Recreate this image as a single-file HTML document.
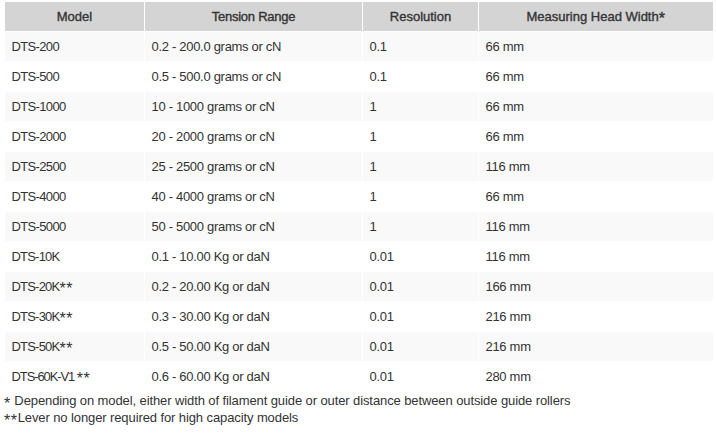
<!DOCTYPE html>
<html><head><meta charset="utf-8">
<style>
html,body{margin:0;padding:0;background:#fff;}
body{width:716px;height:435px;overflow:hidden;position:relative;font-family:"Liberation Sans",sans-serif;color:#333;}
table{position:absolute;left:4px;top:1px;border-collapse:separate;border-spacing:1px;font-size:13px;}
td,th{padding:0 0 0 6.5px;letter-spacing:-0.3px;height:29px;box-sizing:border-box;text-align:left;font-weight:normal;white-space:nowrap;line-height:29px;}
th{background:#d4d4d4;text-align:center;padding:0;font-weight:normal;letter-spacing:0;-webkit-text-stroke:0.35px #333;}
tr.g td{background:#f9f9f9;}
td:first-child{letter-spacing:-0.65px;}
.a{font-size:16px;position:relative;top:3px;letter-spacing:0.6px;line-height:0;}
td.k{letter-spacing:-0.8px;}
td.v{letter-spacing:-1.1px;}
.c1{width:139px}.c2{width:217px}.c3{width:115px}.c4{width:234px}
.foot{position:absolute;left:4px;font-size:13px;white-space:nowrap;letter-spacing:-0.1px;line-height:17px;}
.foot .a{top:4px;}
</style></head><body>
<table>
<tr><th class="c1">Model</th><th class="c2" style="letter-spacing:-0.25px">Tension Range</th><th class="c3">Resolution</th><th class="c4">Measuring Head Width<span class="a">*</span></th></tr>
<tr class="g"><td class="c1">DTS-200</td><td class="c2">0.2 - 200.0 grams or cN</td><td class="c3">0.1</td><td class="c4">66 mm</td></tr>
<tr><td>DTS-500</td><td>0.5 - 500.0 grams or cN</td><td>0.1</td><td>66 mm</td></tr>
<tr class="g"><td>DTS-1000</td><td>10 - 1000 grams or cN</td><td>1</td><td>66 mm</td></tr>
<tr><td>DTS-2000</td><td>20 - 2000 grams or cN</td><td>1</td><td>66 mm</td></tr>
<tr class="g"><td>DTS-2500</td><td>25 - 2500 grams or cN</td><td>1</td><td>116 mm</td></tr>
<tr><td>DTS-4000</td><td>40 - 4000 grams or cN</td><td>1</td><td>66 mm</td></tr>
<tr class="g"><td>DTS-5000</td><td>50 - 5000 grams or cN</td><td>1</td><td>116 mm</td></tr>
<tr><td class="k">DTS-10K</td><td>0.1 - 10.00 Kg or daN</td><td>0.01</td><td>116 mm</td></tr>
<tr class="g"><td class="k">DTS-20K<span class="a">**</span></td><td>0.2 - 20.00 Kg or daN</td><td>0.01</td><td>166 mm</td></tr>
<tr><td class="k">DTS-30K<span class="a">**</span></td><td>0.3 - 30.00 Kg or daN</td><td>0.01</td><td>216 mm</td></tr>
<tr class="g"><td class="k">DTS-50K<span class="a">**</span></td><td>0.5 - 50.00 Kg or daN</td><td>0.01</td><td>216 mm</td></tr>
<tr><td class="v">DTS-60K-V1<span class="a" style="margin-left:2.5px">**</span></td><td>0.6 - 60.00 Kg or daN</td><td>0.01</td><td>280 mm</td></tr>
</table>
<div class="foot" style="top:392px"><span class="a">*</span> Depending on model, either width of filament guide or outer distance between outside guide rollers</div>
<div class="foot" style="top:409px"><span class="a">**</span>Lever no longer required for high capacity models</div>
</body></html>
